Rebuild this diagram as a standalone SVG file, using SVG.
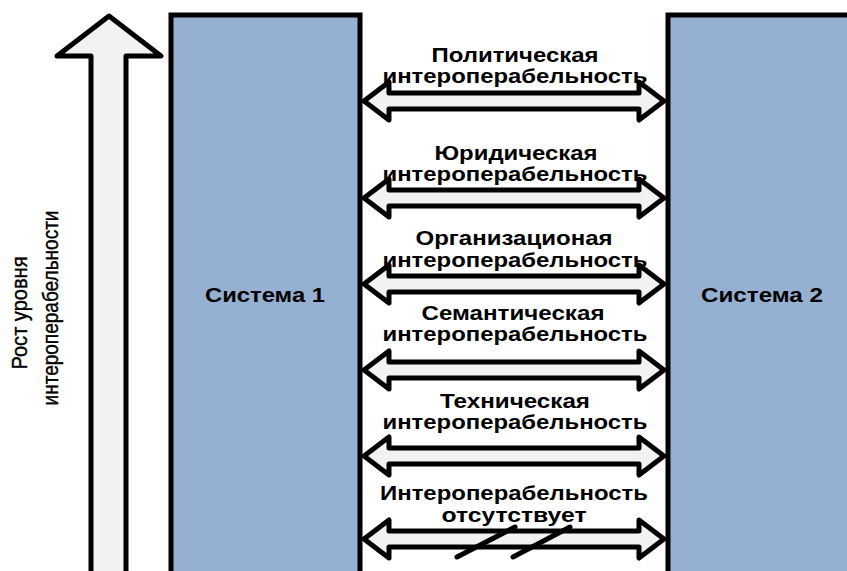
<svg xmlns="http://www.w3.org/2000/svg" width="847" height="571" viewBox="0 0 847 571">
<style>
.sys{fill:#95b0d0;stroke:#000;stroke-width:5}
.arr{fill:#f2f2f2;stroke:#000;stroke-width:5;stroke-linejoin:round}
.lbl{font-family:"Liberation Sans",Arial,sans-serif;font-weight:bold;font-size:19.5px;fill:#000;text-anchor:middle}
.vt{font-family:"Liberation Sans",Arial,sans-serif;font-size:22px;fill:#000;text-anchor:middle;stroke:#000;stroke-width:0.4}
.slash{stroke:#000;stroke-width:5;stroke-linecap:round}
</style>
<defs>
<path id="dbl" d="M364,0 L389,-19 L389,-8 L639,-8 L639,-19 L664,0 L639,19 L639,8 L389,8 L389,19 Z"/>
</defs>
<rect width="847" height="571" fill="#fff"/>
<g id="growth">
<path class="arr" d="M91,580 L91,56 L57,56 L109,16 L161,56 L126,56 L126,580"/>
<text class="vt" transform="translate(26.5,313) rotate(-90)" textLength="113" lengthAdjust="spacingAndGlyphs">Рост уровня</text>
<text class="vt" transform="translate(58,308) rotate(-90)" textLength="195" lengthAdjust="spacingAndGlyphs">интероперабельности</text>
</g>
<g id="system1">
<rect class="sys" x="171" y="15" width="189" height="580"/>
<text class="lbl" x="265" y="302" textLength="120" lengthAdjust="spacingAndGlyphs">Система 1</text>
</g>
<g id="system2">
<rect class="sys" x="668" y="15" width="200" height="580"/>
<text class="lbl" x="762" y="302" textLength="122" lengthAdjust="spacingAndGlyphs">Система 2</text>
</g>
<g id="connectors">
<use href="#dbl" class="arr" transform="translate(0,101)"/>
<use href="#dbl" class="arr" transform="translate(0,198)"/>
<use href="#dbl" class="arr" transform="translate(0,284)"/>
<use href="#dbl" class="arr" transform="translate(0,370)"/>
<use href="#dbl" class="arr" transform="translate(0,456)"/>
<use href="#dbl" class="arr" transform="translate(0,539)"/>
<line class="slash" x1="457" y1="557" x2="515" y2="527"/>
<line class="slash" x1="513" y1="557" x2="570" y2="527"/>
</g>
<g id="labels">
<text class="lbl" x="515" y="62" textLength="167" lengthAdjust="spacingAndGlyphs">Политическая</text>
<text class="lbl" x="515" y="83" textLength="265" lengthAdjust="spacingAndGlyphs">интероперабельность</text>
<text class="lbl" x="516" y="160" textLength="163" lengthAdjust="spacingAndGlyphs">Юридическая</text>
<text class="lbl" x="515" y="181" textLength="265" lengthAdjust="spacingAndGlyphs">интероперабельность</text>
<text class="lbl" x="514" y="245" textLength="197" lengthAdjust="spacingAndGlyphs">Организационая</text>
<text class="lbl" x="515" y="267" textLength="265" lengthAdjust="spacingAndGlyphs">интероперабельность</text>
<text class="lbl" x="513" y="320" textLength="183" lengthAdjust="spacingAndGlyphs">Семантическая</text>
<text class="lbl" x="515" y="341" textLength="265" lengthAdjust="spacingAndGlyphs">интероперабельность</text>
<text class="lbl" x="515" y="408" textLength="150" lengthAdjust="spacingAndGlyphs">Техническая</text>
<text class="lbl" x="515" y="429" textLength="265" lengthAdjust="spacingAndGlyphs">интероперабельность</text>
<text class="lbl" x="514" y="500" textLength="268" lengthAdjust="spacingAndGlyphs">Интероперабельность</text>
<text class="lbl" x="514" y="522" textLength="145" lengthAdjust="spacingAndGlyphs">отсутствует</text>
</g>
</svg>
